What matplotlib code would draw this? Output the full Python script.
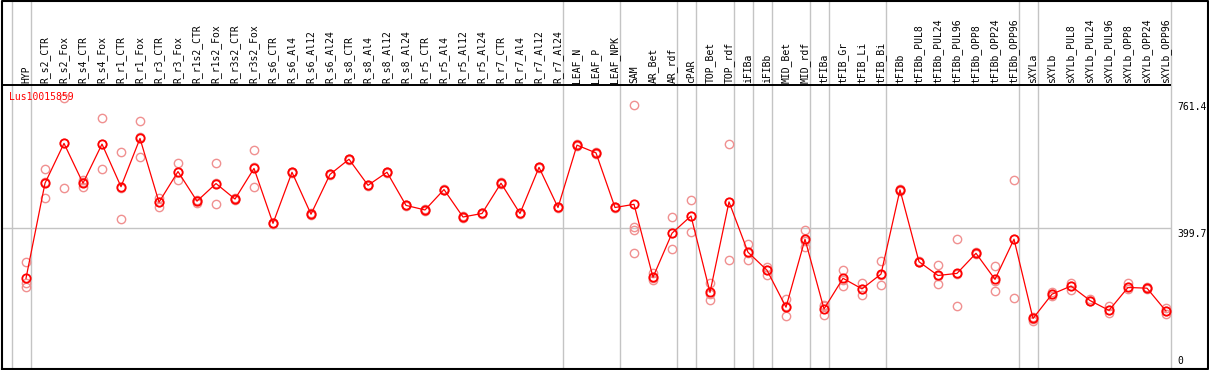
import matplotlib
matplotlib.use("Agg")
import matplotlib.pyplot as plt

# sample names, left to right
samples = ["HYP", "R_s2_CTR", "R_s2_Fox", "R_s4_CTR", "R_s4_Fox", "R_r1_CTR", "R_r1_Fox",
           "R_r3_CTR", "R_r3_Fox", "R_r1s2_CTR", "R_r1s2_Fox", "R_r3s2_CTR", "R_r3s2_Fox",
           "R_s6_CTR", "R_s6_Al4", "R_s6_Al12", "R_s6_Al24", "R_s8_CTR", "R_s8_Al4",
           "R_s8_Al12", "R_s8_Al24", "R_r5_CTR", "R_r5_Al4", "R_r5_Al12", "R_r5_Al24",
           "R_r7_CTR", "R_r7_Al4", "R_r7_Al12", "R_r7_Al24", "LEAF_N", "LEAF_P", "LEAF_NPK",
           "SAM", "AR_Bet", "AR_rdf", "cPAR", "TOP_Bet", "TOP_rdf", "iFIBa", "iFIBb",
           "MID_Bet", "MID_rdf", "tFIBa", "tFIB_Gr", "tFIB_Li", "tFIB_Bi", "tFIBb",
           "tFIBb_PUL8", "tFIBb_PUL24", "tFIBb_PUL96", "tFIBb_OPP8", "tFIBb_OPP24",
           "tFIBb_OPP96", "sXYLa", "sXYLb", "sXYLb_PUL8", "sXYLb_PUL24", "sXYLb_PUL96",
           "sXYLb_OPP8", "sXYLb_OPP24", "sXYLb_OPP96"]

# mean expression per sample
means = [256, 526, 639, 526, 637, 516, 653, 472, 559, 475, 525, 481, 568,
         412, 557, 438, 551, 594, 520, 557, 463, 450, 508, 430, 440,
         526, 440, 571, 457, 634, 612, 457,
         466, 259, 384, 433, 216, 473, 330, 279, 174, 367, 169, 256, 226, 268, 507,
         303, 264, 270, 327, 253, 367, 142, 211, 234, 193, 165, 230, 228, 163]

# replicate values per sample
reps = [[301, 244, 232], [565, 483, 528], [767, 511, 639], [535, 514, 528],
        [710, 565, 636], [614, 423, 511], [703, 599, 657], [483, 459, 472],
        [582, 535, 559], [478, 471, 475], [582, 466, 526], [483, 478, 481],
        [619, 514, 571], [414, 410, 412], [559, 555, 557], [440, 436, 438],
        [553, 549, 551], [596, 592, 594], [522, 518, 520], [559, 555, 557],
        [465, 461, 463], [452, 448, 450], [510, 506, 508], [432, 428, 430],
        [442, 438, 440], [528, 524, 526], [442, 438, 440], [573, 569, 571],
        [459, 455, 457], [636, 632, 634], [614, 610, 612], [459, 455, 457],
        [748, 403, 393, 327], [270, 251, 256], [429, 338, 384], [478, 387, 434],
        [244, 194, 211], [637, 308, 473], [353, 308, 328], [289, 265, 281],
        [196, 148, 176], [393, 344, 363], [180, 151, 176], [281, 234, 252],
        [244, 208, 226], [304, 236, 264], [509, 505, 507], [305, 301, 303],
        [293, 239, 262], [367, 176, 267], [330, 324, 327], [290, 220, 249],
        [534, 199, 367], [136, 140, 147], [206, 211, 217], [244, 223, 234],
        [196, 191, 193], [176, 157, 165], [242, 226, 230], [231, 225, 228],
        [171, 155, 163]]

# indices after which a gray separator is drawn
group_ends = [-1, 0, 28, 31, 34, 35, 37, 38, 39, 41, 42, 45, 52, 53, 60]

gene = "Lus10015859"
y_ticks = [761.4, 399.7, 0]

W, H = 1209, 370
fig = plt.figure(figsize=(W / 100, H / 100), dpi=100)
ax = fig.add_axes([0, 0, 1, 1])
ax.axis("off")

# pixel layout: sample i at x = 26 + 19*i ; value 0 at y=368.5, 0.3523 px per unit
x0, dx = 26.0, 19.0
y0, sy = 368.5, 0.3523
ax.set_xlim(-x0 / dx, (W - x0) / dx)
ax.set_ylim((y0 - H) / sy, y0 / sy)


def px_x(p):
    return (p - x0) / dx


def px_y(p):
    return (y0 - p) / sy


grid = "#c4c4c4"
for g in group_ends:
    ax.axvline(g + 0.24, color=grid, lw=1.0, zorder=1)
ax.hlines(399.7, px_x(2), px_x(1170.5), color=grid, lw=1.0, zorder=1)
ax.hlines(px_y(85.5), px_x(2), px_x(1170.5), color="black", lw=1.4, zorder=2)

# outer frame
ax.plot([0.0015, 0.9988, 0.9988, 0.0015, 0.0015],
        [0.0035, 0.0035, 0.9985, 0.9985, 0.0035],
        transform=ax.transAxes, color="black", lw=1.5, clip_on=False, zorder=5)

xs = list(range(len(samples)))
for i, r in enumerate(reps):
    ax.plot([i] * len(r), r, "o", ms=6.0, mfc="none", mec="#f09090", mew=1.0, zorder=3)

ax.plot(xs, means, "-", color="red", lw=0.9, zorder=4)
ax.plot(xs, means, "o", ms=6.0, mfc="none", mec="red", mew=1.3, zorder=4)

mono = "DejaVu Sans Mono"
for i, s in enumerate(samples):
    ax.text(i, px_y(83.5), s, rotation=90, ha="center", va="bottom",
            fontsize=7, family=mono, color="black")

ax.text(px_x(9), px_y(92), gene, ha="left", va="top", fontsize=7, family=mono, color="red")

for v in y_ticks:
    if v == 0:
        ax.text(px_x(1177), px_y(366.5), "0", ha="left", va="bottom", fontsize=7, family=mono)
    else:
        ax.text(px_x(1177), v - 4, "%.1f" % v, ha="left", va="top", fontsize=7, family=mono)

fig.savefig("out.png", dpi=100)
